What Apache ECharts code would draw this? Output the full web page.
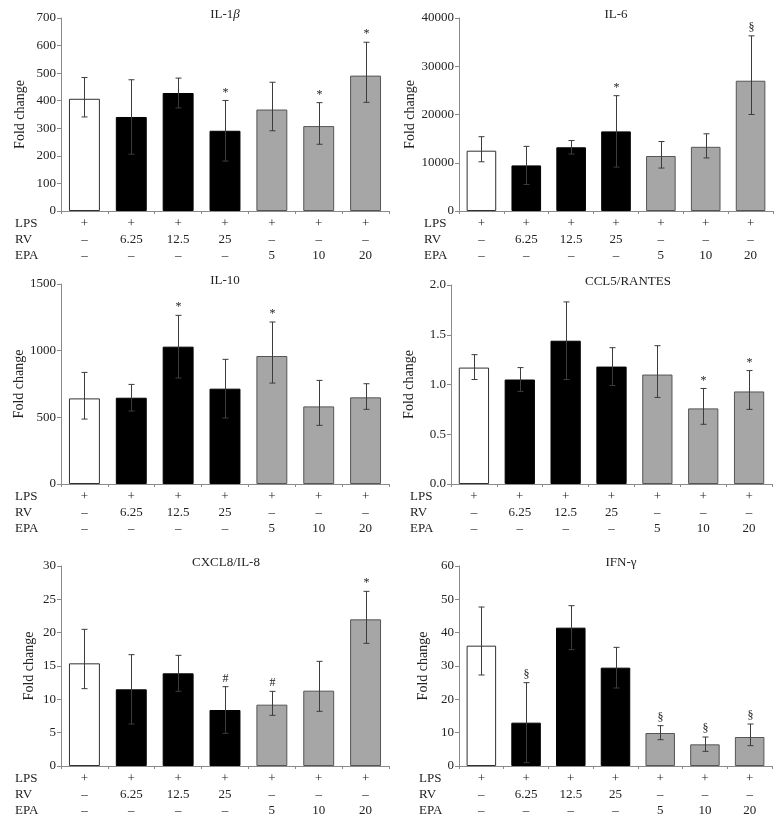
<!DOCTYPE html>
<html lang="en" style="height: 100%">
<head>
  <meta charset="utf-8">
</head>
<body style="height: 100%; margin: 0; background: #fff">
  <div id="container" style="width: 782px; height: 824px"></div>

  <script type="text/javascript" src="https://cdn.jsdelivr.net/npm/echarts@6/dist/echarts.min.js"></script>
  <script type="text/javascript">
    // treatment table under each panel
    var lpsRow = ['+', '+', '+', '+', '+', '+', '+'];
    var rvRow = ['\u2013', '6.25', '12.5', '25', '\u2013', '\u2013', '\u2013'];
    var epaRow = ['\u2013', '\u2013', '\u2013', '\u2013', '5', '10', '20'];
    var barKinds = ['ctrl', 'rv', 'rv', 'rv', 'epa', 'epa', 'epa'];

    // values: mean, whisker top, whisker bottom, marker
    var il1bMean = [407, 341, 428, 291, 368, 308, 491];
    var il1bHigh = [484, 476, 482, 401, 467, 393, 612];
    var il1bLow = [341, 206, 374, 181, 291, 242, 394];
    var il1bMark = ['', '', '', '*', '', '*', '*'];

    var il6Mean = [12500, 9450, 13200, 16500, 11400, 13300, 27000];
    var il6High = [15400, 13400, 14600, 23900, 14400, 16000, 36300];
    var il6Low = [10200, 5500, 11800, 9100, 8900, 11000, 20000];
    var il6Mark = ['', '', '', '*', '', '', '\u00a7'];

    var il10Mean = [642, 647, 1030, 715, 960, 582, 650];
    var il10High = [837, 747, 1265, 935, 1215, 777, 752];
    var il10Low = [487, 547, 795, 495, 757, 440, 560];
    var il10Mark = ['', '', '*', '', '*', '', ''];

    var ccl5Mean = [1.17, 1.05, 1.44, 1.18, 1.10, 0.76, 0.93];
    var ccl5High = [1.30, 1.17, 1.83, 1.37, 1.39, 0.96, 1.14];
    var ccl5Low = [1.05, 0.93, 1.05, 0.99, 0.87, 0.60, 0.75];
    var ccl5Mark = ['', '', '', '', '', '*', '*'];

    var cxcl8Mean = [15.4, 11.5, 13.9, 8.4, 9.2, 11.3, 22.0];
    var cxcl8High = [20.5, 16.7, 16.6, 11.9, 11.2, 15.7, 26.2];
    var cxcl8Low = [11.6, 6.3, 11.2, 4.9, 7.6, 8.2, 18.4];
    var cxcl8Mark = ['', '', '', '#', '#', '', '*'];

    var ifngMean = [36.1, 13.0, 41.5, 29.5, 9.9, 6.5, 8.7];
    var ifngHigh = [47.7, 25.0, 48.1, 35.6, 12.1, 8.7, 12.6];
    var ifngLow = [27.3, 1.0, 34.9, 23.4, 7.9, 4.4, 6.1];
    var ifngMark = ['', '\u00a7', '', '', '\u00a7', '\u00a7', '\u00a7'];

    var FONT = '"Liberation Serif", "DejaVu Serif", serif';

    var fills = { ctrl: '#ffffff', rv: '#000000', epa: '#a6a6a6' };
    var borders = { ctrl: '#303030', rv: '#000000', epa: '#555555' };

    var panels = [
      { title: 'IL-1{i|\u03b2}', mean: il1bMean, hi: il1bHigh, lo: il1bLow, mark: il1bMark,
        max: 700, step: 100, dec: 0, left: 61, top: 18, width: 328, height: 193, nameGap: 34, rowX: 15, titleX: 225 },
      { title: 'IL-6', mean: il6Mean, hi: il6High, lo: il6Low, mark: il6Mark,
        max: 40000, step: 10000, dec: 0, left: 459, top: 18, width: 314, height: 193, nameGap: 42, rowX: 424, titleX: 616 },
      { title: 'IL-10', mean: il10Mean, hi: il10High, lo: il10Low, mark: il10Mark,
        max: 1500, step: 500, dec: 0, left: 61, top: 284, width: 328, height: 200, nameGap: 34, rowX: 15, titleX: 225 },
      { title: 'CCL5/RANTES', mean: ccl5Mean, hi: ccl5High, lo: ccl5Low, mark: ccl5Mark,
        max: 2, step: 0.5, dec: 1, left: 451, top: 285, width: 321, height: 199, nameGap: 35, rowX: 410, titleX: 628 },
      { title: 'CXCL8/IL-8', mean: cxcl8Mean, hi: cxcl8High, lo: cxcl8Low, mark: cxcl8Mark,
        max: 30, step: 5, dec: 0, left: 61, top: 566, width: 328, height: 200, nameGap: 25, rowX: 15, titleX: 226 },
      { title: 'IFN-\u03b3', mean: ifngMean, hi: ifngHigh, lo: ifngLow, mark: ifngMark,
        max: 60, step: 10, dec: 0, left: 459, top: 566, width: 313, height: 200, nameGap: 29, rowX: 419, titleX: 621 }
    ];

    function errorRenderer(marks) {
      return function (params, api) {
        var i = api.value(0);
        var top = api.coord([i, api.value(2)]);
        var bot = api.coord([i, api.value(1)]);
        var x = Math.round(top[0]) + 0.5;
        var cap = 3;
        var st = { stroke: '#3c3c3c', lineWidth: 1 };
        return {
          type: 'group',
          children: [
            { type: 'line', shape: { x1: x, y1: top[1], x2: x, y2: bot[1] }, style: st },
            { type: 'line', shape: { x1: x - cap, y1: top[1], x2: x + cap, y2: top[1] }, style: st },
            { type: 'line', shape: { x1: x - cap, y1: bot[1], x2: x + cap, y2: bot[1] }, style: st },
            { type: 'text', style: { text: marks[i], x: x, y: top[1] - 2, align: 'center', verticalAlign: 'bottom',
              fontSize: 12, fontFamily: FONT, fill: '#222' } }
          ]
        };
      };
    }

    var option = {
      backgroundColor: '#fff',
      animation: false,
      title: [], grid: [], xAxis: [], yAxis: [], series: [], graphic: []
    };

    panels.forEach(function (p, k) {
      option.title.push({
        text: p.title, left: p.titleX, top: p.top - 10, textAlign: 'center', padding: 0,
        textStyle: { fontFamily: FONT, fontSize: 13, fontWeight: 'normal', color: '#222',
          rich: { i: { fontFamily: FONT, fontSize: 13, fontStyle: 'italic', color: '#222' } } }
      });
      option.grid.push({ left: p.left, top: p.top, width: p.width, height: p.height, containLabel: false });
      option.xAxis.push({
        type: 'category', gridIndex: k, data: barKinds.map(function (c, i) { return i; }),
        axisLine: { lineStyle: { color: '#8a8a8a', width: 1 } },
        axisTick: { show: true, inside: false, length: 3, lineStyle: { color: '#8a8a8a' } },
        axisLabel: {
          margin: 5, fontFamily: FONT, fontSize: 13, color: '#222', lineHeight: 16, interval: 0,
          formatter: function (v, i) { return lpsRow[i] + '\n' + rvRow[i] + '\n' + epaRow[i]; }
        }
      });
      option.yAxis.push({
        type: 'value', gridIndex: k, min: 0, max: p.max, interval: p.step,
        name: 'Fold change', nameLocation: 'middle', nameGap: p.nameGap, nameRotate: 90,
        nameTextStyle: { fontFamily: FONT, fontSize: 14, color: '#222' },
        axisLine: { show: true, lineStyle: { color: '#8a8a8a', width: 1 } },
        axisTick: { show: true, length: 4, lineStyle: { color: '#8a8a8a' } },
        splitLine: { show: false },
        axisLabel: { margin: 5, fontFamily: FONT, fontSize: 13, color: '#222',
          formatter: function (v) { return v.toFixed(p.dec); } }
      });
      option.series.push({
        type: 'bar', xAxisIndex: k, yAxisIndex: k, barWidth: '66%',
        data: p.mean.map(function (v, i) {
          var c = barKinds[i];
          return { value: v, itemStyle: { color: fills[c], borderColor: borders[c], borderWidth: 1 } };
        })
      });
      option.series.push({
        type: 'custom', xAxisIndex: k, yAxisIndex: k, z: 5,
        renderItem: errorRenderer(p.mark),
        data: p.mean.map(function (v, i) { return [i, p.lo[i], p.hi[i]]; })
      });
      option.graphic.push({
        type: 'text', left: p.rowX, top: p.top + p.height + 5,
        style: { text: 'LPS\nRV\nEPA', fontFamily: FONT, fontSize: 13, lineHeight: 16, fill: '#222' }
      });
    });

    var chart = echarts.init(document.getElementById('container'), null, { renderer: 'canvas' });
    chart.setOption(option);
    window.addEventListener('resize', chart.resize);
  </script>
</body>
</html>
